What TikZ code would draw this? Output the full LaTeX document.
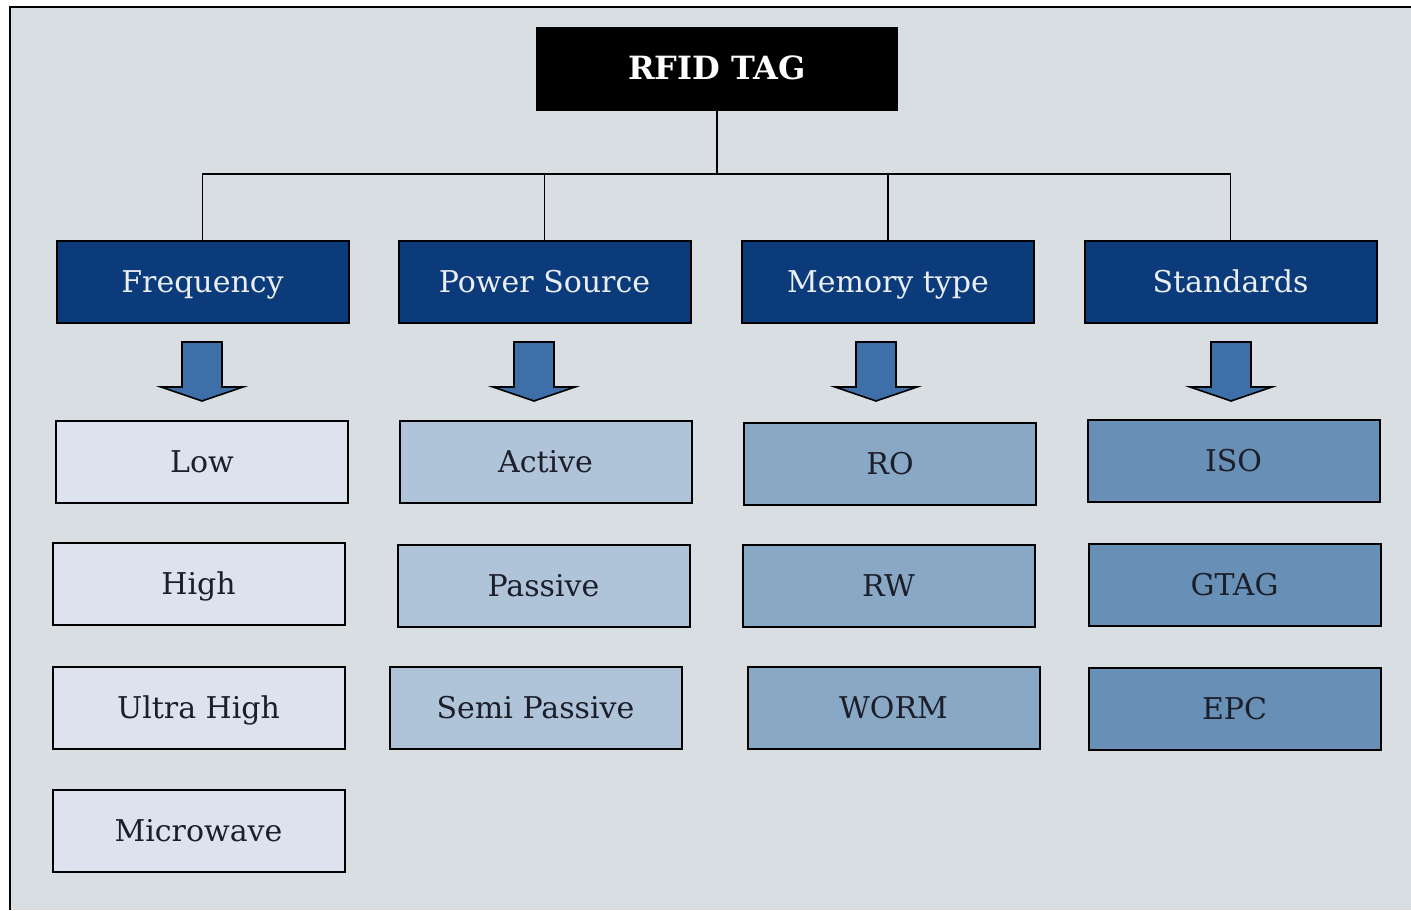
\documentclass[tikz,border=0pt]{standalone}
\usepackage{fontspec}
\setmainfont{DejaVu Serif}
\usetikzlibrary{positioning}
\definecolor{tagpanel}{HTML}{D8DEE2}
\definecolor{tagnavy}{HTML}{0B3B7A}
\definecolor{tagarrow}{HTML}{3E6FA9}
\definecolor{freqfill}{HTML}{DCE2EE}
\definecolor{powerfill}{HTML}{AFC3D9}
\definecolor{memfill}{HTML}{89A8C6}
\definecolor{stdfill}{HTML}{6890B6}
\definecolor{tagink}{HTML}{1C1F2A}

\begin{document}
\begin{tikzpicture}[
  x=0.5pt, y=-0.5pt,
  box/.style={draw=black, line width=1pt, inner sep=0pt, minimum width=146pt,
              minimum height=41pt, text height=12pt, text depth=1.5pt,
              text=tagink, font=\fontsize{15}{18}\selectfont},
  rootbox/.style={box, fill=black, text=white, minimum width=180pt,
                  font=\fontsize{16}{19}\selectfont\bfseries},
  catbox/.style={box, fill=tagnavy, text=white!92!tagnavy},
  freqbox/.style={box, fill=freqfill},
  powerbox/.style={box, fill=powerfill},
  membox/.style={box, fill=memfill},
  stdbox/.style={box, fill=stdfill},
  link/.style={draw=black, line width=0.9pt},
  blockarrow/.style={draw=black, line width=0.8pt, fill=tagarrow, line join=miter}
]
  \useasboundingbox (0,0) rectangle (1411,910);
  \fill[white] (0,0) rectangle (1411,910);
  \fill[tagpanel] (10,7) rectangle (1411,910);
  \draw[line width=1.2pt] (10,910) -- (10,7) -- (1411,7);

  \node[rootbox] (tag) at (717,68.5) {RFID TAG};

  \node[catbox] (freq)   at (202.5,281.5) {Frequency};
  \node[catbox] (power)  at (544.5,281.5) {Power Source};
  \node[catbox] (memory) at (888,281.5)   {Memory type};
  \node[catbox] (std)    at (1230.5,281.5) {Standards};

  % tree lines from the tag down to the four groups
  \coordinate (bus) at (717,174);
  \draw[link] (tag.south) -- (tag.south |- bus);
  \draw[link] (freq.north) -- (freq.north |- bus) -- (std.north |- bus) -- (std.north);
  \draw[link] (power.north) -- (power.north |- bus);
  \draw[link] (memory.north) -- (memory.north |- bus);

  % block arrows under each group
  \foreach \ax in {202,534,876,1231}
    \draw[blockarrow] (\ax-20,342) -- (\ax+20,342) -- (\ax+20,387) -- (\ax+41,387)
      -- (\ax,401) -- (\ax-41,387) -- (\ax-20,387) -- cycle;

  \node[freqbox] (low)    at (202,461.5)   {Low};
  \node[freqbox] (high)   at (198.5,584)   {High};
  \node[freqbox] (uhigh)  at (198.5,708)   {Ultra High};
  \node[freqbox] (micro)  at (198.5,830.5) {Microwave};

  \node[powerbox] (active)  at (545.5,461.5) {Active};
  \node[powerbox] (passive) at (543.5,585.5) {Passive};
  \node[powerbox] (semi)    at (535.5,708)   {Semi Passive};

  \node[membox] (ro)   at (890,464)   {RO};
  \node[membox] (rw)   at (888.5,586) {RW};
  \node[membox] (worm) at (893.5,708) {WORM};

  \node[stdbox] (iso)  at (1233.5,460.5) {ISO};
  \node[stdbox] (gtag) at (1234.5,584.5) {GTAG};
  \node[stdbox] (epc)  at (1234.5,708.5) {EPC};
\end{tikzpicture}
\end{document}
